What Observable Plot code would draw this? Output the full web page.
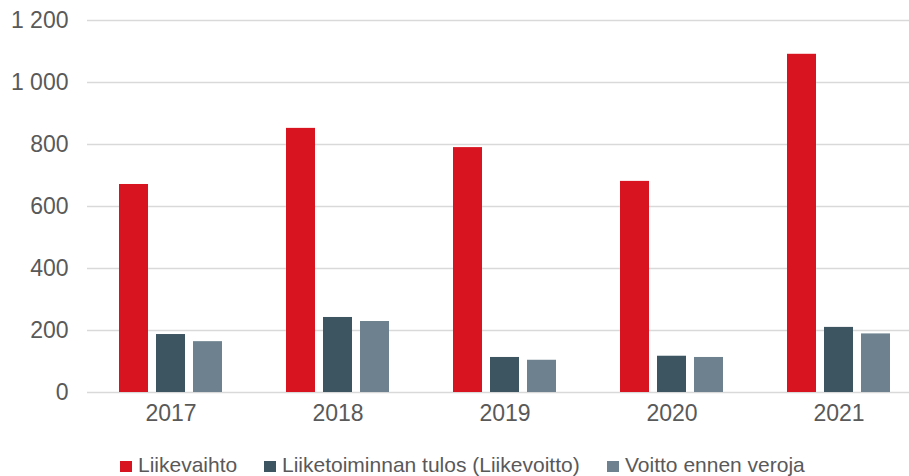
<!DOCTYPE html>
<html><head><meta charset="utf-8">
<script src="https://cdn.jsdelivr.net/npm/d3@7"></script>
<script src="https://cdn.jsdelivr.net/npm/@observablehq/plot@0.6"></script>
<style>
body{margin:0;background:#fff;font-family:"Liberation Sans",Arial,sans-serif;}
#wrap{position:relative;width:909px;height:476px;overflow:hidden;background:#fff}
#legend{position:absolute;left:0;top:453px;width:909px;height:24px;font-size:21px;color:#595959}
.item{position:absolute;top:0;white-space:nowrap;line-height:24px}
.sw{display:inline-block;width:12px;height:11px;margin-right:6px;vertical-align:baseline}
</style></head><body><div id="wrap"><div id="chart"></div><div id="legend"></div></div>
<script>
const years = ["2017","2018","2019","2020","2021"];
const series = ["Liikevaihto","Liiketoiminnan tulos (Liikevoitto)","Voitto ennen veroja"];
const liikevaihto = [671, 852, 790, 681, 1091];
const liikevoitto = [187, 242, 113, 117, 210];
const voittoEnnenVeroja = [164, 229, 104, 113, 189];
const colors = ["#d7141f","#3d5561","#6d828e"];
const yTicks = [0,200,400,600,800,1000,1200];
const legendLeft = [120, 264, 607];

const valuesBySeries = [liikevaihto, liikevoitto, voittoEnnenVeroja];
const data = years.flatMap((yr, i) => series.map((s, j) => ({year: yr, series: s, value: valuesBySeries[j][i]})));

const fmt = d => d3.format(",")(d).replace(/,/g, "\u00a0");

const chart = Plot.plot({
  width: 909, height: 448,
  marginTop: 20, marginBottom: 56, marginLeft: 87, marginRight: 0,
  style: {fontFamily: "'Liberation Sans', Arial, sans-serif", fontSize: "23px", color: "#595959", background: "#fff"},
  fx: {domain: years, range: [86, 923.4], padding: 0, label: null},
  x: {domain: series, paddingInner: 0.223, paddingOuter: 0.858, axis: null},
  y: {domain: [0, 1200], label: null},
  color: {domain: series, range: colors},
  marks: [
    Plot.gridY(yTicks, {stroke: "#d9d9d9", strokeOpacity: 1, strokeWidth: 1.5}),
    Plot.barY(data, {fx: "year", x: "series", y: "value", fill: "series"}),
    Plot.axisY(yTicks, {tickSize: 0, tickPadding: 19, tickFormat: fmt, fontSize: 23, label: null}),
    Plot.axisFx({anchor: "bottom", tickSize: 0, tickPadding: 12, fontSize: 23, label: null})
  ]
});
document.getElementById("chart").appendChild(chart);

const legend = document.getElementById("legend");
series.forEach((s, i) => {
  const item = document.createElement("div");
  item.className = "item";
  item.style.left = legendLeft[i] + "px";
  const sw = document.createElement("span");
  sw.className = "sw";
  sw.style.background = colors[i];
  item.appendChild(sw);
  item.appendChild(document.createTextNode(s));
  legend.appendChild(item);
});
</script></body></html>
